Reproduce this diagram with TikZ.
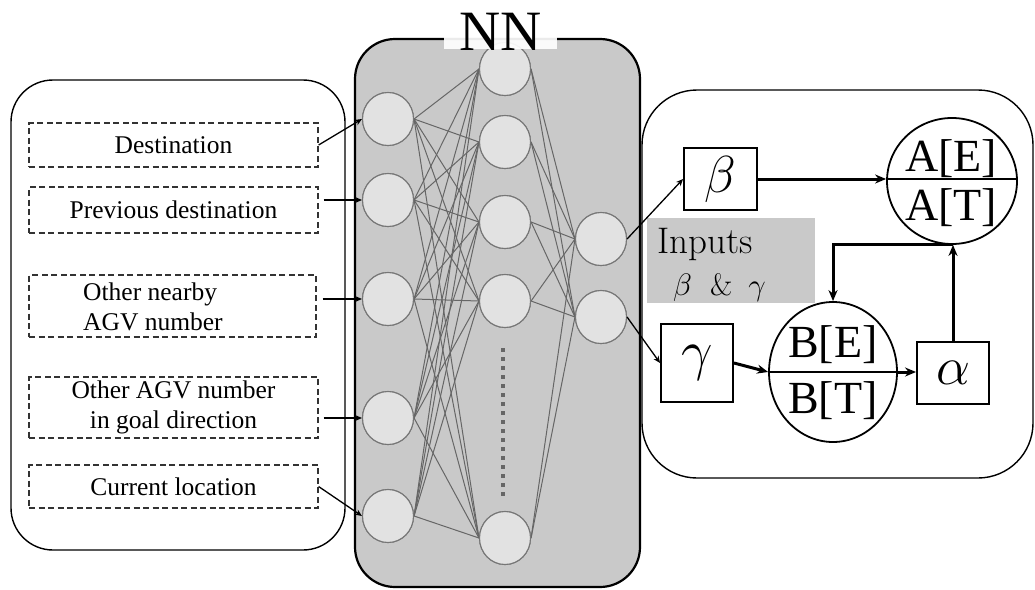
\RequirePackage{fix-cm}
\documentclass[tikz,border=0pt]{standalone}
\usepackage{fontspec}
\setmainfont{Liberation Serif}
\newfontfamily\lmfont{Latin Modern Roman}
\usetikzlibrary{arrows.meta,shapes.geometric,calc}

\definecolor{nngray}{HTML}{C9C9C9}
\definecolor{cellfill}{HTML}{E2E2E2}
\definecolor{celledge}{HTML}{767676}
\definecolor{wiregray}{HTML}{666666}

\tikzset{
  feat/.style={draw=black!80, dash pattern=on 6pt off 3.5pt, line width=1.2pt,
    minimum width=289pt, inner sep=0pt, align=center,
    font=\fontsize{25.5}{30}\selectfont},
  neuron/.style={ellipse, draw=celledge, fill=cellfill, line width=1.1pt,
    minimum width=51pt, minimum height=53pt, inner sep=0pt},
  wire/.style={draw=wiregray, line width=1pt},
  feed/.style={line width=1.3pt, -{Stealth[length=7pt,width=6pt]}},
  flow/.style={line width=3pt, -{Stealth[length=11pt,width=9pt]}},
  symbox/.style={draw, line width=1.9pt, fill=white, inner sep=0pt},
  ratio/.style={ellipse, draw, line width=1.8pt, inner sep=0pt},
  bigtxt/.style={font=\fontsize{46}{50}\selectfont, inner sep=0pt}
}

\begin{document}
\begin{tikzpicture}[x=1pt, y=-1pt]
\useasboundingbox (0,0) rectangle (1035,589);

% ---------- feature panel ----------
\draw[line width=1.4pt, rounded corners=42pt] (11,80) rectangle (345,550);
\node[feat, minimum height=44pt] (f1) at (173.5,145) {Destination};
\node[feat, minimum height=46pt] (f2) at (173.5,210) {Previous destination};
\node[feat, minimum width=287pt, minimum height=62pt] (f3) at (172.5,306) {};
\node[anchor=base west, align=left, inner sep=0pt, font=\fontsize{25.5}{30}\selectfont]
  (f3t) at (83,330) {Other nearby\\AGV number};
\node[feat, minimum height=61pt] (f4) at (173.5,407.5) {Other AGV number\\ in goal direction};
\node[feat, minimum height=43pt] (f5) at (173.5,486.5) {Current location};

% ---------- network panel ----------
\draw[line width=2.2pt, fill=nngray, rounded corners=40pt] (355,39) rectangle (640,587);

\foreach \i/\y in {1/119, 2/200, 3/299, 4/418, 5/516}
  \coordinate (pin\i) at (388,\y);
\foreach \j/\y in {1/69, 2/142, 3/222, 4/301, 5/538}
  \coordinate (phid\j) at (505,\y);
\foreach \k/\y in {1/239, 2/317}
  \coordinate (pout\k) at (601,\y);

% cells, drawn first to get their anchors
\foreach \i in {1,...,5} \node[neuron] (in\i) at (pin\i) {};
\foreach \j in {1,...,5} \node[neuron] (hid\j) at (phid\j) {};
\foreach \k in {1,2} \node[neuron] (out\k) at (pout\k) {};

% full wiring between layers
\foreach \i in {1,...,5}
  \foreach \j in {1,...,5}
    \draw[wire] (in\i.east) -- (hid\j.west);
\foreach \j in {1,...,5}
  \foreach \k in {1,2}
    \draw[wire] (hid\j.east) -- (out\k.west);

% cells again, on top of the wiring
\foreach \i in {1,...,5} \node[neuron] at (pin\i) {};
\foreach \j in {1,...,5} \node[neuron] at (phid\j) {};
\foreach \k in {1,2} \node[neuron] at (pout\k) {};

% omitted hidden units
\draw[wiregray, line width=4.3pt, dash pattern=on 4.3pt off 4.7pt] (503,348) -- (503,500);

% title tab
\fill[white, opacity=0.92] (444,0) rectangle (557,49);
\node[anchor=base, inner sep=0pt, font=\fontsize{57}{60}\selectfont] (nn) at (501,50) {NN};

% inputs into the network
\draw[feed] (f1.east) -- (in1.west);
\draw[feed] ([xshift=5pt]f2.east |- in2.west) -- (in2.west);
\draw[feed] ([xshift=6pt]f3.east |- in3.west) -- (in3.west);
\draw[feed] ([xshift=5pt]f4.east |- in4.west) -- (in4.west);
\draw[feed] (f5.east) -- (in5.west);

% ---------- decision panel ----------
\draw[line width=1.4pt, rounded corners=55pt, fill=white] (642,90) rectangle (1033,478);

\fill[nngray] (647,218) rectangle (815,303);
\node[anchor=base west, inner sep=0pt, font=\lmfont\fontsize{37}{40}\selectfont] (inp) at (657,253) {Inputs};
\node[anchor=base west, inner sep=0pt, font=\lmfont\fontsize{31}{34}\selectfont] (inpg) at (673,295)
  {$\beta$\hspace{18pt}\&\hspace{16pt}$\gamma$};

\node[symbox, minimum width=73pt, minimum height=62pt] (beta) at (720.5,179)
  {\fontsize{52}{54}\selectfont$\beta$};
\node[symbox, minimum width=72pt, minimum height=78pt] (gamma) at (697,363)
  {\fontsize{56}{58}\selectfont$\gamma$};
\node[symbox, minimum width=72pt, minimum height=62pt] (alpha) at (953,373)
  {\fontsize{54}{56}\selectfont$\alpha$};

\node[ratio, minimum width=130pt, minimum height=126pt] (A) at (952,181) {};
\node[bigtxt, anchor=base] (AE) at (951,171.5) {A[E]};
\node[bigtxt, anchor=base] (AT) at (951,220) {A[T]};
\draw[line width=1.6pt] (beta.east -| A.west) -- ++(131,0) coordinate (Aend);

\node[ratio, minimum width=128pt, minimum height=140pt] (B) at (833,372) {};
\node[bigtxt, anchor=base] (BE) at (833,357) {B[E]};
\node[bigtxt, anchor=base] (BT) at (833,413) {B[T]};
\draw[line width=1.6pt] (B.west) -- (B.east);

% network outputs
\draw[feed] (out1.east) -- (beta.west);
\draw[feed] (out2.east) -- (gamma.west);

% value flow
\draw[flow] (beta.east) -- (beta.east -| A.west);
\draw[flow] (gamma.east) -- (B.west);
\draw[flow] (B.east) -- (B.east -| alpha.west);
\draw[flow] (alpha.north) -- (alpha.north |- A.south);
\draw[flow] (alpha.north |- A.south) -| (B.north);
\end{tikzpicture}
\end{document}
